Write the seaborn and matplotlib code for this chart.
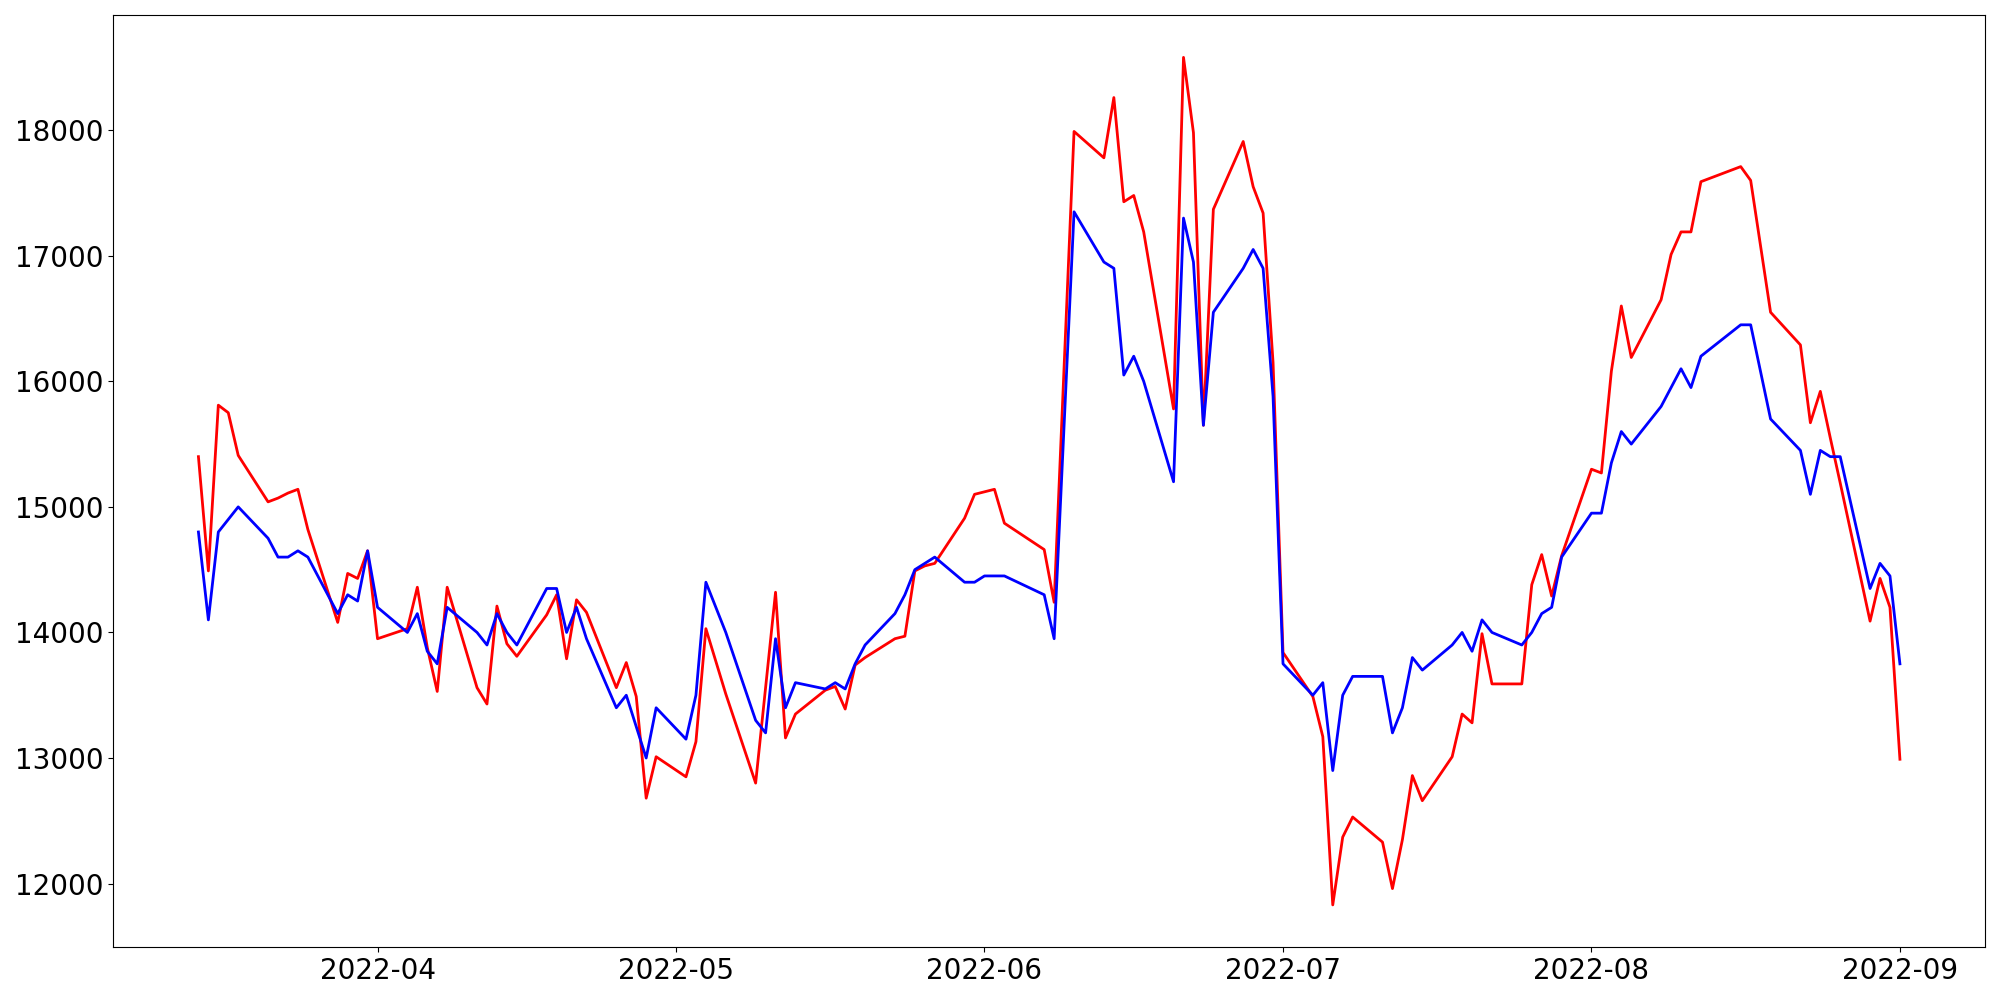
import matplotlib
matplotlib.use("Agg")
import matplotlib.pyplot as plt
import seaborn as sns
import pandas as pd

# ==========================================
# 数据
# ==========================================
dates = [
    "2022-03-14", "2022-03-15", "2022-03-16", "2022-03-17", "2022-03-18",
    "2022-03-21", "2022-03-22", "2022-03-23", "2022-03-24", "2022-03-25",
    "2022-03-28", "2022-03-29", "2022-03-30", "2022-03-31", "2022-04-01",
    "2022-04-04", "2022-04-05", "2022-04-06", "2022-04-07", "2022-04-08",
    "2022-04-11", "2022-04-12", "2022-04-13", "2022-04-14", "2022-04-15",
    "2022-04-18", "2022-04-19", "2022-04-20", "2022-04-21", "2022-04-22",
    "2022-04-25", "2022-04-26", "2022-04-27", "2022-04-28", "2022-04-29",
    "2022-05-02", "2022-05-03", "2022-05-04", "2022-05-06",
    "2022-05-09", "2022-05-10", "2022-05-11", "2022-05-12", "2022-05-13",
    "2022-05-16", "2022-05-17", "2022-05-18", "2022-05-19", "2022-05-20",
    "2022-05-23", "2022-05-24", "2022-05-25", "2022-05-26", "2022-05-27",
    "2022-05-30", "2022-05-31", "2022-06-01", "2022-06-02", "2022-06-03",
    "2022-06-07", "2022-06-08", "2022-06-10",
    "2022-06-13", "2022-06-14", "2022-06-15", "2022-06-16", "2022-06-17",
    "2022-06-20", "2022-06-21", "2022-06-22", "2022-06-23", "2022-06-24",
    "2022-06-27", "2022-06-28", "2022-06-29", "2022-06-30", "2022-07-01",
    "2022-07-04", "2022-07-05", "2022-07-06", "2022-07-07", "2022-07-08",
    "2022-07-11", "2022-07-12", "2022-07-13", "2022-07-14", "2022-07-15",
    "2022-07-18", "2022-07-19", "2022-07-20", "2022-07-21", "2022-07-22",
    "2022-07-25", "2022-07-26", "2022-07-27", "2022-07-28", "2022-07-29",
    "2022-08-01", "2022-08-02", "2022-08-03", "2022-08-04", "2022-08-05",
    "2022-08-08", "2022-08-09", "2022-08-10", "2022-08-11", "2022-08-12",
    "2022-08-16", "2022-08-17", "2022-08-19",
    "2022-08-22", "2022-08-23", "2022-08-24", "2022-08-25", "2022-08-26",
    "2022-08-29", "2022-08-30", "2022-08-31", "2022-09-01",
]

red_values = [
    15400, 14490, 15810, 15750, 15410,
    15040, 15070, 15110, 15140, 14820,
    14080, 14470, 14430, 14650, 13950,
    14030, 14360, 13880, 13530, 14360,
    13560, 13430, 14210, 13910, 13810,
    14140, 14300, 13790, 14260, 14160,
    13560, 13760, 13490, 12680, 13010,
    12850, 13130, 14030, 13510,
    12800, 13560, 14320, 13160, 13350,
    13540, 13570, 13390, 13740, 13800,
    13950, 13970, 14490, 14530, 14550,
    14910, 15100, 15120, 15140, 14870,
    14660, 14240, 17990,
    17780, 18260, 17430, 17480, 17190,
    15780, 18580, 17980, 15650, 17370,
    17910, 17550, 17340, 16150, 13840,
    13490, 13170, 11830, 12370, 12530,
    12330, 11960, 12350, 12860, 12660,
    13010, 13350, 13280, 13990, 13590,
    13590, 14380, 14620, 14290, 14610,
    15300, 15270, 16080, 16600, 16190,
    16650, 17010, 17190, 17190, 17590,
    17710, 17600, 16550,
    16290, 15670, 15920, 15550, 15190,
    14090, 14430, 14200, 12990,
]

blue_values = [
    14800, 14100, 14800, 14900, 15000,
    14750, 14600, 14600, 14650, 14600,
    14150, 14300, 14250, 14650, 14200,
    14000, 14150, 13850, 13750, 14200,
    14000, 13900, 14150, 14000, 13900,
    14350, 14350, 14000, 14200, 13950,
    13400, 13500, 13250, 13000, 13400,
    13150, 13500, 14400, 14000,
    13300, 13200, 13950, 13400, 13600,
    13550, 13600, 13550, 13750, 13900,
    14150, 14300, 14500, 14550, 14600,
    14400, 14400, 14450, 14450, 14450,
    14300, 13950, 17350,
    16950, 16900, 16050, 16200, 16000,
    15200, 17300, 16950, 15650, 16550,
    16900, 17050, 16900, 15880, 13750,
    13500, 13600, 12900, 13500, 13650,
    13650, 13200, 13400, 13800, 13700,
    13900, 14000, 13850, 14100, 14000,
    13900, 14000, 14150, 14200, 14600,
    14950, 14950, 15350, 15600, 15500,
    15800, 15950, 16100, 15950, 16200,
    16450, 16450, 15700,
    15450, 15100, 15450, 15400, 15400,
    14350, 14550, 14450, 13750,
]

df = pd.DataFrame({
    "date": pd.to_datetime(dates),
    "red": red_values,
    "blue": blue_values,
})

# ==========================================
# 绘图
# ==========================================
fig, ax = plt.subplots(figsize=(20, 10), dpi=100)
sns.lineplot(data=df, x="date", y="red", color="red", linewidth=2, ax=ax)
sns.lineplot(data=df, x="date", y="blue", color="blue", linewidth=2, ax=ax)

ax.set_xlabel("")
ax.set_ylabel("")
ax.tick_params(axis="both", labelsize=20)
plt.tight_layout()
plt.savefig("out.png", dpi=100)
plt.close()
